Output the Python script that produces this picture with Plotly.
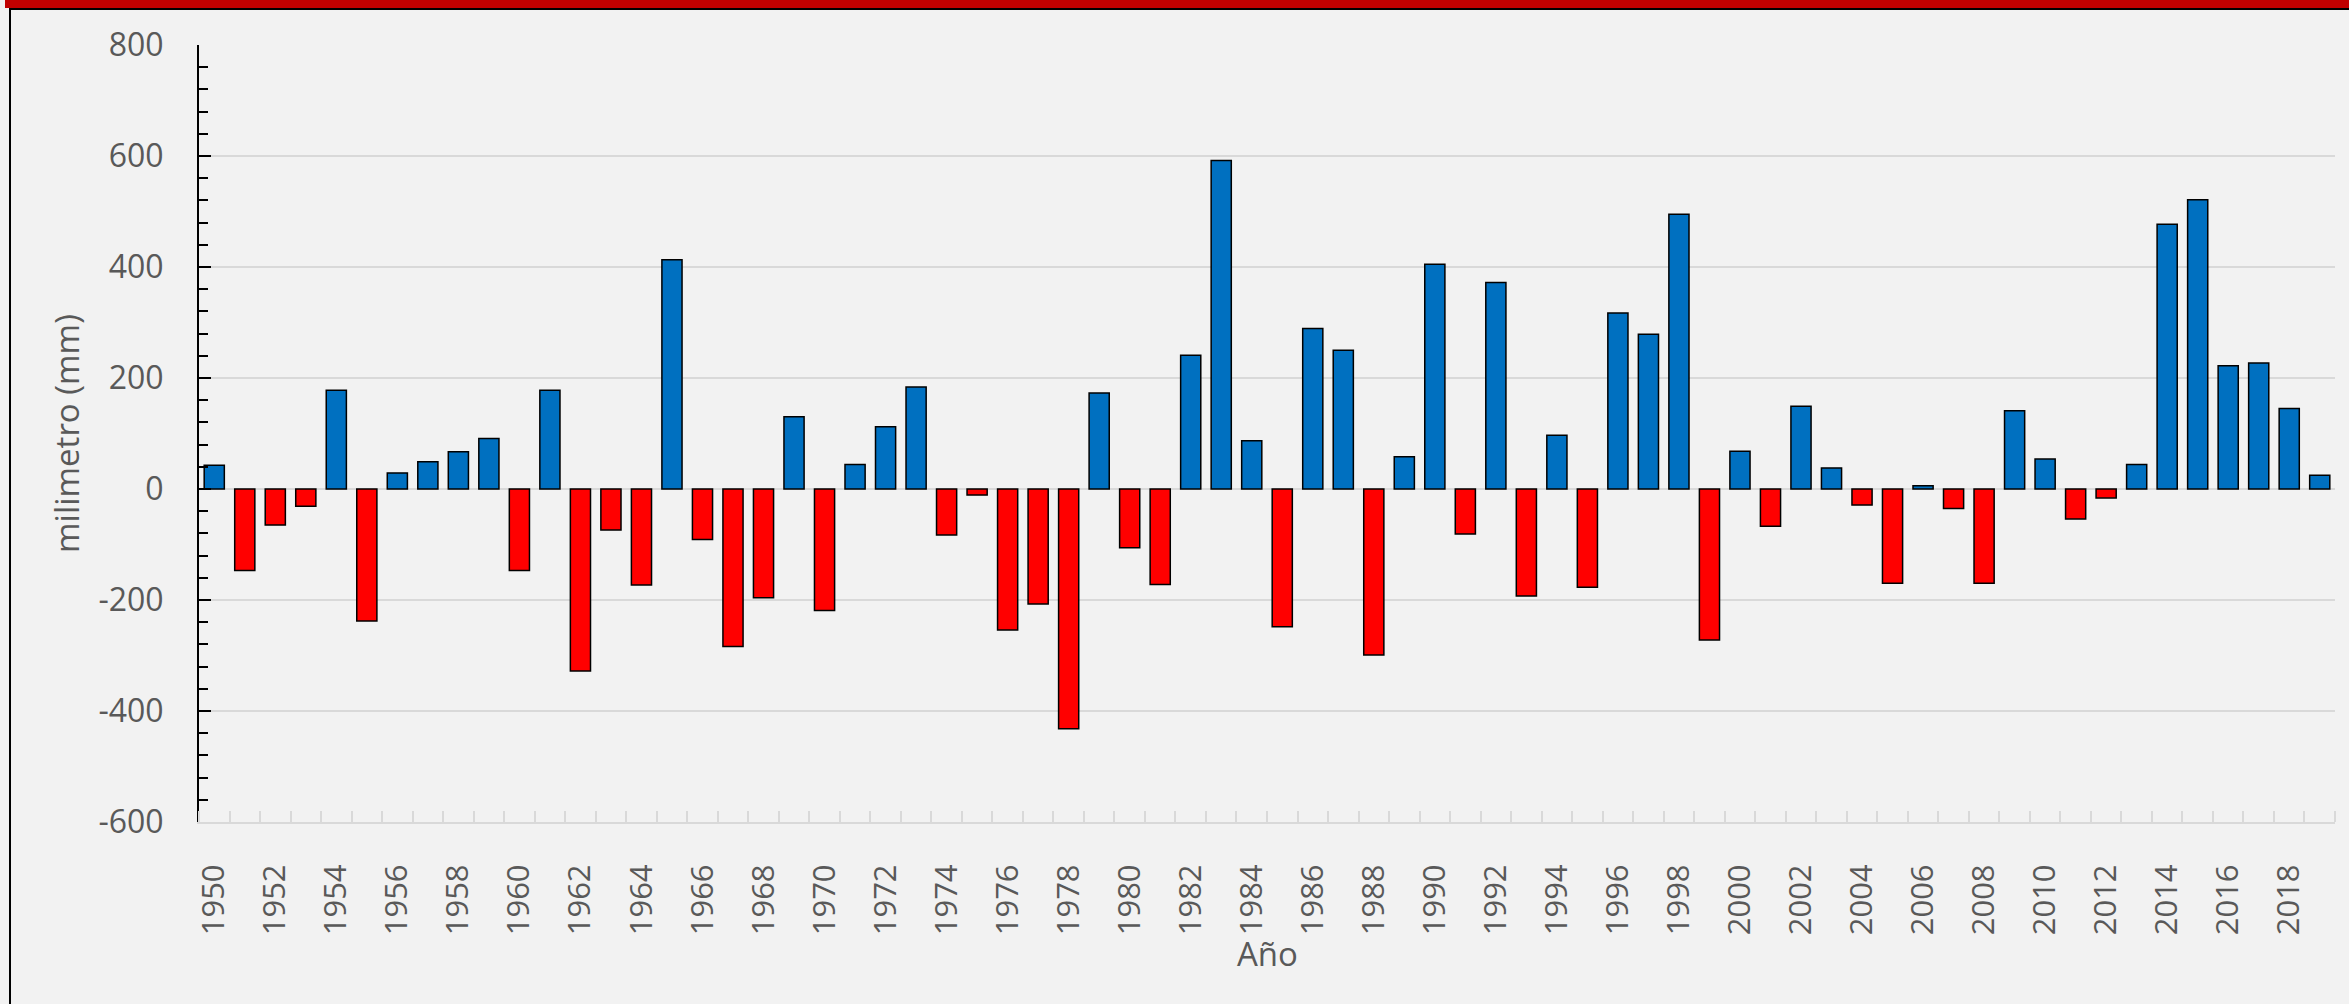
import plotly.graph_objects as go

years = list(range(1950, 2020))
anomalies_mm = [
    43, -147, -65, -31, 178, -238, 29, 49, 67, 91,
    -147, 178, -328, -74, -173, 413, -91, -284, -196, 130,
    -219, 44, 112, 184, -83, -11, -254, -207, -432, 173,
    -106, -172, 241, 592, 87, -248, 289, 250, -299, 58,
    405, -81, 372, -193, 97, -177, 317, 279, 495, -272,
    68, -67, 149, 38, -29, -170, 6, -35, -170, 141,
    54, -54, -16, 44, 477, 521, 222, 227, 145, 25,
]
x_tick_vals = list(range(1950, 2020, 2))
x_tick_labels = [str(y) for y in x_tick_vals]
y_tick_vals = [-600, -400, -200, 0, 200, 400, 600, 800]
y_tick_labels = ["-600", "-400", "-200", "0", "200", "400", "600", "800"]

BLUE = "#0070c0"
RED = "#ff0000"
TXT = "#595959"
GRID = "#d9d9d9"
BG = "#f2f2f2"
FONT = "Open Sans"

colors = [BLUE if v > 0 else RED for v in anomalies_mm]

fig = go.Figure()
fig.add_trace(go.Bar(
    x=years, y=anomalies_mm,
    width=0.66,
    marker=dict(color=colors, line=dict(color="black", width=1.5)),
    showlegend=False,
))

W, H = 2349, 1004
L, R, T, B = 199, 14, 45, 182
pw, ph = W - L - R, H - T - B

def px_x(px):
    return (px - L) / pw

def px_y(py):
    return (H - B - py) / ph

shapes = [
    dict(type="rect", xref="paper", yref="paper", x0=px_x(5), x1=px_x(W + 5),
         y0=px_y(8), y1=px_y(-5), fillcolor="#c00000", line=dict(width=0), layer="above"),
    dict(type="rect", xref="paper", yref="paper", x0=px_x(9), x1=px_x(W + 5),
         y0=px_y(10), y1=px_y(8), fillcolor="black", line=dict(width=0), layer="above"),
    dict(type="rect", xref="paper", yref="paper", x0=px_x(9), x1=px_x(11),
         y0=px_y(H + 5), y1=px_y(8), fillcolor="black", line=dict(width=0), layer="above"),
]

annotations = [
    dict(text="milimetro (mm)", xref="paper", yref="paper", x=px_x(67), y=px_y(434),
         xanchor="center", yanchor="middle", textangle=-90, showarrow=False,
         font=dict(family=FONT, size=33, color=TXT)),
    dict(text="Año", xref="paper", yref="paper", x=px_x(1267), y=px_y(953),
         xanchor="center", yanchor="middle", showarrow=False,
         font=dict(family=FONT, size=33, color=TXT)),
]

fig.update_layout(
    width=W, height=H,
    margin=dict(l=L, r=R, t=T, b=B, autoexpand=False),
    paper_bgcolor=BG, plot_bgcolor=BG,
    font=dict(family=FONT, color=TXT, size=32),
    shapes=shapes,
    annotations=annotations,
    xaxis=dict(
        range=[1949.5, 2019.5],
        tickmode="array", tickvals=x_tick_vals, ticktext=x_tick_labels,
        tickangle=-90, ticks="", showgrid=False, zeroline=False,
        showline=True, linecolor=GRID, linewidth=2,
        tickfont=dict(family=FONT, size=31, color=TXT),
        ticklabelstandoff=28,
        minor=dict(tick0=1949.5, dtick=1, ticks="inside", ticklen=11,
                   tickcolor=GRID, tickwidth=2, showgrid=False),
        automargin=False,
    ),
    yaxis=dict(
        range=[-600, 800],
        tickmode="array", tickvals=y_tick_vals, ticktext=y_tick_labels,
        showgrid=True, gridcolor=GRID, gridwidth=2, zeroline=False,
        showline=True, linecolor="black", linewidth=2,
        ticks="inside", ticklen=12, tickwidth=2, tickcolor="black",
        tickfont=dict(family=FONT, size=32, color=TXT),
        ticklabelstandoff=27,
        minor=dict(tickmode="linear", tick0=0, dtick=40, ticks="inside", ticklen=9, tickwidth=2,
                   tickcolor="black", showgrid=False),
        automargin=False,
    ),
)

fig.write_html(
    "out.html",
    config={"displayModeBar": False},
    post_script="document.body.style.margin='0';document.body.style.overflow='hidden';",
)
